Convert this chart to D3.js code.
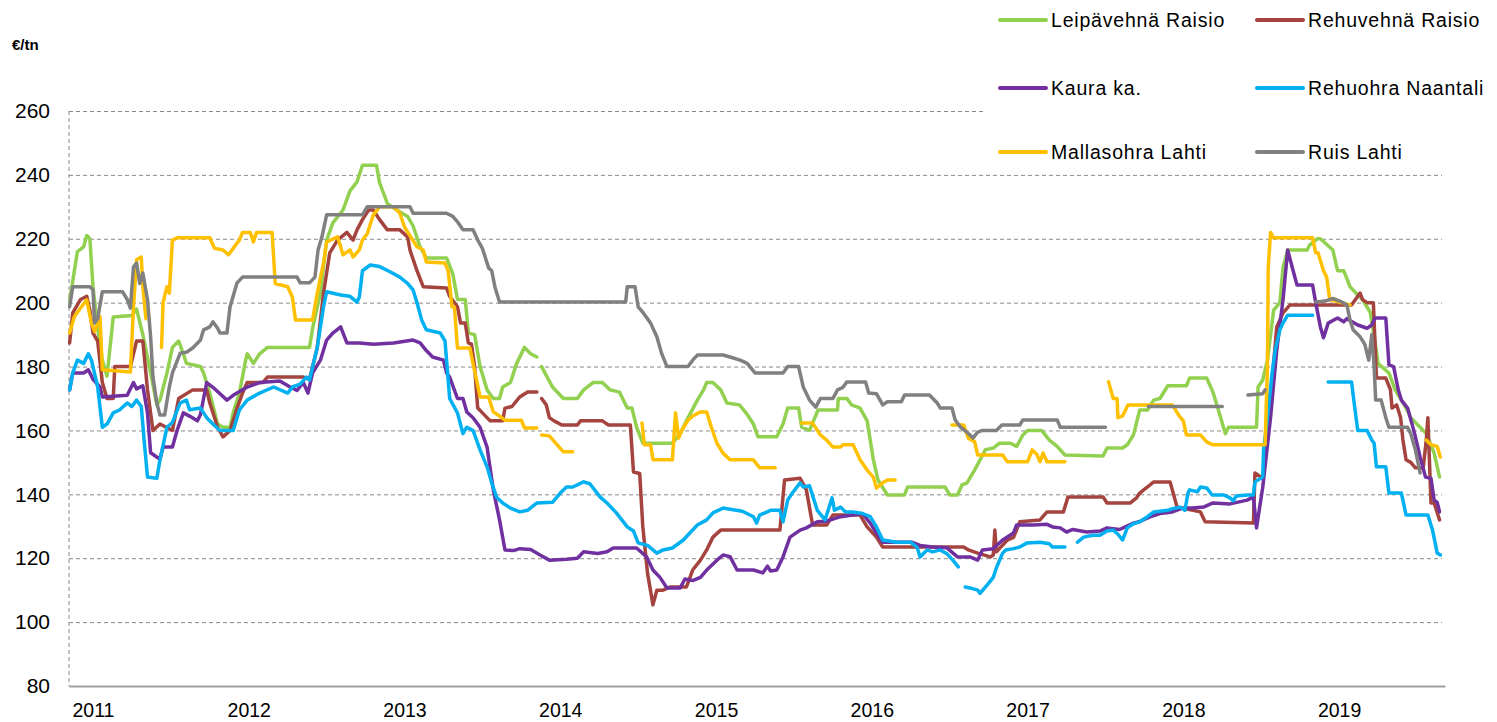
<!DOCTYPE html>
<meta charset="utf-8">
<style>
body { margin: 0; background: #fff; }
svg text { font-family: "Liberation Sans", Arial, sans-serif; fill: #000; }
</style>
<body>
<script src="https://d3js.org/d3.v7.min.js"></script>
<script>
// series names, in legend order (last one drawn on top)
var seriesNames = ["Leipävehnä Raisio", "Rehuvehnä Raisio", "Kaura ka.", "Rehuohra Naantali", "Mallasohra Lahti", "Ruis Lahti"];
var yTicks = [80, 100, 120, 140, 160, 180, 200, 220, 240, 260];
var yearTicks = [2011, 2012, 2013, 2014, 2015, 2016, 2017, 2018, 2019];
var unitLabel = "€/tn";

// [year, €/tn], null = gap in the series
var leipavehna = [[2010.85,200.6],[2010.90,216],[2010.94,217.5],[2010.96,221],[2010.98,220],[2011.00,205],[2011.03,192],[2011.06,182],[2011.09,177],[2011.13,195.5],[2011.25,196],[2011.28,198],[2011.32,190],[2011.37,178],[2011.41,168],[2011.43,169.5],[2011.475,178],[2011.51,186],[2011.55,188],[2011.58,184],[2011.60,181],[2011.69,180],[2011.71,178],[2011.75,171.7],[2011.80,162],[2011.835,161],[2011.88,161],[2011.90,165.5],[2011.94,171.7],[2011.98,182],[2011.99,184],[2012.03,181],[2012.07,184],[2012.12,186],[2012.39,186],[2012.41,192],[2012.46,203],[2012.50,219.6],[2012.54,225],[2012.605,229],[2012.65,235],[2012.695,237.8],[2012.73,243],[2012.82,243],[2012.84,237.5],[2012.875,233],[2012.89,231],[2012.95,229],[2013.02,227],[2013.055,224],[2013.10,217.5],[2013.14,214],[2013.27,214],[2013.31,209],[2013.34,201],[2013.39,201],[2013.41,190.5],[2013.45,190],[2013.485,180],[2013.53,172.7],[2013.57,170],[2013.61,170],[2013.63,173.6],[2013.68,175],[2013.72,181],[2013.77,186],[2013.81,184],[2013.85,183],null,[2013.88,180],[2013.95,173.6],[2014.02,170],[2014.11,170],[2014.15,172.7],[2014.21,175],[2014.27,175],[2014.32,172.7],[2014.38,172],[2014.43,167],[2014.46,167],[2014.49,161],[2014.53,156],[2014.72,156],[2014.77,159],[2014.81,163],[2014.88,169.5],[2014.92,172.7],[2014.94,175],[2014.98,175],[2015.03,172.7],[2015.07,168.6],[2015.15,168],[2015.20,165],[2015.24,162],[2015.27,158],[2015.39,158],[2015.43,162],[2015.46,167],[2015.53,167],[2015.55,161],[2015.60,160],[2015.655,166.4],[2015.78,166.4],[2015.785,170],[2015.84,170],[2015.87,168],[2015.925,167],[2015.97,163],[2016.01,150.8],[2016.04,144.5],[2016.10,139.8],[2016.21,139.8],[2016.23,142.3],[2016.47,142.3],[2016.50,139.8],[2016.55,139.8],[2016.58,143],[2016.61,143.5],[2016.66,147.6],[2016.695,150.8],[2016.73,154],[2016.78,154.5],[2016.82,156],[2016.89,156],[2016.93,155],[2016.97,158.6],[2017.00,160],[2017.09,160],[2017.14,157],[2017.19,155],[2017.24,152.3],[2017.485,152],[2017.51,154.5],[2017.61,154.5],[2017.64,155.5],[2017.68,158.6],[2017.72,166.4],[2017.77,166.4],[2017.81,169.5],[2017.85,170],[2017.90,174],[2018.02,174],[2018.04,176.4],[2018.15,176.4],[2018.19,172],[2018.24,164],[2018.27,159],[2018.29,161],[2018.47,161],[2018.48,173.6],[2018.51,175.8],[2018.54,182],[2018.58,197.7],[2018.62,200],[2018.64,211],[2018.67,216.5],[2018.795,216.5],[2018.81,218],[2018.86,220],[2018.88,220],[2018.96,216.5],[2018.99,210],[2019.03,210],[2019.07,205],[2019.12,202.4],[2019.15,201],[2019.20,197],[2019.23,188],[2019.25,181],[2019.32,178],[2019.36,172.7],[2019.43,167],[2019.46,164],[2019.52,161],[2019.56,159],[2019.61,153],[2019.645,145.4]];

var rehuvehna = [[2010.85,187.4],[2010.87,196.8],[2010.92,201],[2010.96,202],[2010.98,197.7],[2011.00,190.5],[2011.03,188],[2011.06,175],[2011.09,170],[2011.13,170],[2011.14,180],[2011.24,180],[2011.28,188],[2011.32,188],[2011.35,172.7],[2011.385,160],[2011.43,162],[2011.51,160],[2011.55,170],[2011.64,172.7],[2011.73,172.7],[2011.75,168.6],[2011.80,161],[2011.835,158],[2011.88,160],[2011.925,167],[2011.96,171.7],[2011.99,175],[2012.09,175],[2012.12,176.7],[2012.35,176.7],[2012.39,176],[2012.44,186],[2012.48,203],[2012.52,215.6],[2012.57,219.6],[2012.63,222],[2012.67,219.6],[2012.695,222.8],[2012.73,226],[2012.77,229],[2012.80,229],[2012.84,226],[2012.89,222.8],[2012.97,222.8],[2013.02,220.6],[2013.035,216.5],[2013.08,210],[2013.12,205],[2013.27,204.6],[2013.29,202],[2013.34,198.7],[2013.36,193.6],[2013.39,193.6],[2013.41,187.4],[2013.43,187],[2013.45,180],[2013.47,167],[2013.50,165.5],[2013.55,163],[2013.63,163],[2013.645,167],[2013.69,167.5],[2013.74,170.5],[2013.79,172],[2013.85,172],null,[2013.88,170],[2013.91,168],[2013.93,164],[2013.96,163],[2014.01,161.7],[2014.11,161.7],[2014.13,163],[2014.27,163],[2014.31,161.7],[2014.45,161.7],[2014.47,147],[2014.51,146.5],[2014.53,129.8],[2014.56,115.4],[2014.595,105.4],[2014.62,110],[2014.66,110],[2014.705,111],[2014.81,111],[2014.85,116.3],[2014.90,119.4],[2014.94,122.6],[2014.98,126.6],[2015.03,128.8],[2015.41,128.8],[2015.44,144.5],[2015.54,145],[2015.58,141.4],[2015.62,130.4],[2015.71,130.4],[2015.75,133.5],[2015.925,133.5],[2015.97,129.8],[2016.03,126.6],[2016.07,123.5],[2016.59,123.5],[2016.62,122.6],[2016.68,121.6],[2016.76,120.4],[2016.78,121],[2016.79,128.8],[2016.80,122],[2016.87,125.7],[2016.91,126.5],[2016.95,131.4],[2017.08,132],[2017.125,134.5],[2017.23,134.5],[2017.26,139.2],[2017.485,139.2],[2017.51,137.3],[2017.66,137.3],[2017.70,138.9],[2017.72,140.4],[2017.77,142.3],[2017.81,143.9],[2017.915,143.9],[2017.96,136],[2018.11,134.5],[2018.14,131.4],[2018.45,131],[2018.46,146.7],[2018.51,145],[2018.54,159],[2018.60,192.4],[2018.64,196.8],[2018.685,199.3],[2019.08,199.3],[2019.135,203],[2019.15,201],[2019.18,200],[2019.22,200],[2019.24,176.4],[2019.30,176.4],[2019.33,172.7],[2019.34,167],[2019.37,168],[2019.395,164],[2019.41,157],[2019.43,150.8],[2019.46,150],[2019.49,148.3],[2019.54,148.3],[2019.56,157],[2019.57,164],[2019.59,137.3],[2019.61,137.3],[2019.645,132]];

var kaura = [[2010.85,172.7],[2010.87,178],[2010.94,178],[2010.97,179],[2011.00,176],[2011.045,173.6],[2011.06,170.5],[2011.22,171],[2011.26,175],[2011.28,173],[2011.32,174],[2011.35,165.5],[2011.37,153],[2011.43,151],[2011.45,154.8],[2011.51,154.8],[2011.54,160],[2011.58,165.5],[2011.62,164.5],[2011.67,163],[2011.69,165],[2011.73,175],[2011.77,173.5],[2011.86,169.5],[2011.90,171],[2011.99,173.6],[2012.07,175],[2012.20,175.5],[2012.265,173.6],[2012.31,172.5],[2012.35,175],[2012.38,171.7],[2012.41,178],[2012.46,182],[2012.50,188.3],[2012.54,190.5],[2012.59,192.4],[2012.63,187.4],[2012.71,187.4],[2012.80,187],[2012.93,187.4],[2013.055,188.3],[2013.10,187.4],[2013.14,185],[2013.18,183],[2013.25,182],[2013.27,178],[2013.29,176.7],[2013.34,170],[2013.375,170],[2013.40,165.8],[2013.44,164],[2013.485,161],[2013.53,154.8],[2013.57,141.4],[2013.61,132],[2013.645,122.6],[2013.70,122.4],[2013.74,123],[2013.81,122.7],[2013.87,121],[2013.93,119.4],[2014.04,119.7],[2014.11,120],[2014.15,122],[2014.24,121.5],[2014.30,122],[2014.34,123.2],[2014.49,123.2],[2014.555,120.4],[2014.595,116.3],[2014.64,114],[2014.685,110.7],[2014.77,110.7],[2014.80,113.5],[2014.85,113],[2014.90,114],[2014.94,116.3],[2015.006,119.4],[2015.045,121],[2015.09,120.5],[2015.135,116.3],[2015.24,116.3],[2015.30,115.4],[2015.33,117.5],[2015.35,116],[2015.39,116.3],[2015.43,120.4],[2015.475,126.6],[2015.54,128.8],[2015.58,129.5],[2015.65,131.4],[2015.71,131.6],[2015.80,133],[2015.94,134],[2015.99,131],[2016.03,127.9],[2016.07,125],[2016.26,125],[2016.31,124],[2016.39,123.5],[2016.48,123.3],[2016.55,120.4],[2016.63,120.4],[2016.68,119.4],[2016.71,122.6],[2016.78,123],[2016.84,125.7],[2016.91,127.9],[2016.93,130.4],[2017.035,130.4],[2017.125,130.6],[2017.16,129.8],[2017.21,129.5],[2017.25,128.2],[2017.29,129],[2017.38,128.2],[2017.465,128.5],[2017.51,129.5],[2017.59,129],[2017.68,131],[2017.72,131.5],[2017.79,133],[2017.85,134],[2017.93,134.5],[2017.995,135.7],[2018.06,135.7],[2018.13,136],[2018.19,137.3],[2018.30,137],[2018.41,138.2],[2018.45,139.2],[2018.47,129.5],[2018.51,142.3],[2018.56,164],[2018.60,185.2],[2018.64,200.9],[2018.67,216.5],[2018.705,210],[2018.73,205.5],[2018.83,205.5],[2018.85,200],[2018.88,192.4],[2018.90,189],[2018.93,193.6],[2018.99,195.2],[2019.03,194],[2019.05,195],[2019.12,193],[2019.18,192],[2019.21,193],[2019.23,195.2],[2019.30,195.2],[2019.32,180.5],[2019.35,180],[2019.38,172.7],[2019.40,169.5],[2019.44,167],[2019.485,159],[2019.52,151.7],[2019.555,145.4],[2019.59,145],[2019.61,138.2],[2019.63,137.5],[2019.645,134.5]];

var rehuohra = [[2010.85,172.7],[2010.87,178],[2010.90,182],[2010.94,181],[2010.97,184],[2010.99,182],[2011.03,173.6],[2011.06,161],[2011.09,162],[2011.13,165.5],[2011.17,166.4],[2011.22,168.6],[2011.25,167.5],[2011.28,169.5],[2011.31,167.5],[2011.33,156],[2011.35,145.4],[2011.41,145],[2011.43,150.8],[2011.475,161],[2011.51,162.5],[2011.56,168.6],[2011.60,169.5],[2011.62,166.5],[2011.69,167],[2011.73,164],[2011.77,162],[2011.815,160],[2011.90,160],[2011.94,166.4],[2011.99,169.5],[2012.07,171.7],[2012.16,173.6],[2012.25,171.7],[2012.28,173.6],[2012.33,174.5],[2012.37,176.7],[2012.39,175.8],[2012.44,186],[2012.48,198.7],[2012.50,203.4],[2012.59,202.4],[2012.65,202],[2012.695,200.2],[2012.71,201.8],[2012.73,210],[2012.78,211.8],[2012.84,211.3],[2012.91,209.6],[2012.97,208],[2013.02,206],[2013.055,204],[2013.08,200],[2013.11,194.6],[2013.14,191.5],[2013.23,190.5],[2013.26,188],[2013.27,182],[2013.29,170],[2013.34,165.5],[2013.375,159],[2013.40,161],[2013.44,160],[2013.485,153.9],[2013.53,148.6],[2013.56,143.6],[2013.59,139.2],[2013.63,137.3],[2013.68,135.7],[2013.74,134.5],[2013.79,135],[2013.85,137.3],[2013.95,137.5],[2014.00,140.4],[2014.04,142.3],[2014.08,142.3],[2014.15,143.9],[2014.19,143.3],[2014.255,139.2],[2014.30,137.3],[2014.36,134.2],[2014.43,129.8],[2014.47,128.5],[2014.50,124.8],[2014.56,124],[2014.62,121.6],[2014.66,122.6],[2014.72,123.2],[2014.79,125.7],[2014.83,127.8],[2014.88,130.4],[2014.94,132],[2014.98,134.2],[2015.045,135.7],[2015.11,135.2],[2015.17,134.7],[2015.24,133],[2015.26,131],[2015.28,133.5],[2015.35,135],[2015.41,135],[2015.43,131.4],[2015.46,138.2],[2015.49,140.4],[2015.54,143.6],[2015.56,142.3],[2015.60,142.7],[2015.65,135],[2015.70,132],[2015.745,138.9],[2015.76,135],[2015.80,136],[2015.83,134.5],[2015.88,134.5],[2015.94,134],[2015.99,133],[2016.03,129.8],[2016.07,125.7],[2016.16,125],[2016.25,125],[2016.29,123.5],[2016.31,120.4],[2016.355,122.6],[2016.39,122],[2016.44,122.6],[2016.48,121.5],[2016.52,119.4],[2016.555,117.3],null,[2016.60,111],[2016.63,110.7],[2016.68,110],[2016.695,109],[2016.74,111.6],[2016.78,114],[2016.80,117],[2016.84,121.6],[2016.86,122.6],[2016.91,123],[2016.95,123.5],[2016.997,124.8],[2017.08,125],[2017.14,124.5],[2017.16,123.5],[2017.24,123.5],null,[2017.32,125],[2017.36,126.6],[2017.42,127.2],[2017.465,127.2],[2017.51,128.5],[2017.55,128.8],[2017.58,127.5],[2017.61,125.7],[2017.64,129.5],[2017.68,130.8],[2017.72,131.4],[2017.77,133],[2017.81,134.5],[2017.90,135],[2017.93,135.5],[2017.98,136],[2018.01,135],[2018.03,140.4],[2018.04,141.4],[2018.09,140.8],[2018.11,142.3],[2018.15,142],[2018.185,139.8],[2018.26,139.8],[2018.30,138.9],[2018.32,138],[2018.34,139.5],[2018.41,139.8],[2018.45,139.8],[2018.46,143.9],[2018.51,145.4],[2018.515,153.9],[2018.54,164],[2018.57,178],[2018.59,185.2],[2018.62,191.5],[2018.64,193.6],[2018.67,196.1],[2018.83,196.1],null,[2018.93,175.2],[2019.08,175.2],[2019.10,167.3],[2019.12,160],[2019.18,160],[2019.21,157],[2019.225,156],[2019.24,148.6],[2019.30,148.6],[2019.32,140.4],[2019.40,140.4],[2019.43,133.5],[2019.57,133.5],[2019.60,128.8],[2019.63,121.6],[2019.65,121]];

var mallasohra = [[2010.85,190.5],[2010.88,195.6],[2010.92,198.3],[2010.96,200.9],[2010.99,193.6],[2011.01,191],[2011.045,195.6],[2011.06,179],[2011.24,178.3],[2011.26,198.7],[2011.28,213.4],[2011.31,214.3],[2011.32,205],[2011.34,195],null,[2011.44,186],[2011.45,200],[2011.475,205],[2011.49,203],[2011.51,219.6],[2011.54,220.3],[2011.75,220.3],[2011.78,217],[2011.835,216.5],[2011.87,215],[2011.90,217],[2011.94,219.6],[2011.96,222],[2012.01,222],[2012.03,219],[2012.05,222],[2012.15,222],[2012.17,206],[2012.25,205],[2012.28,201.8],[2012.30,194.6],[2012.41,194.6],[2012.44,203],[2012.48,212.4],[2012.50,219],[2012.57,220.6],[2012.605,215],[2012.65,216.5],[2012.67,214.3],[2012.71,216.5],[2012.73,219.6],[2012.76,221.5],[2012.80,227.5],[2012.84,230],[2012.93,230],[2012.97,228],[2013.00,223.7],[2013.035,221],[2013.08,217.5],[2013.12,216.5],[2013.14,212.7],[2013.26,212.4],[2013.28,210],[2013.305,198.7],[2013.32,198.7],[2013.34,185.8],[2013.42,185.8],[2013.44,181],[2013.485,170.5],[2013.54,170.5],[2013.57,165.8],[2013.61,164.5],[2013.645,163.2],[2013.75,163.2],[2013.77,160.8],[2013.85,160.8],null,[2013.88,158.6],[2013.93,158.3],[2013.98,155.5],[2014.02,153.3],[2014.08,153.3],null,[2014.525,162.3],[2014.54,155.5],[2014.58,155.5],[2014.595,150.8],[2014.72,150.8],[2014.74,165.5],[2014.76,157.6],[2014.78,160],[2014.82,163.2],[2014.85,164.5],[2014.90,165.8],[2014.94,165.8],[2014.97,161],[2015.006,156],[2015.045,152.9],[2015.09,150.8],[2015.24,150.8],[2015.28,148.3],[2015.38,148.3],null,[2015.55,162.3],[2015.62,162.3],[2015.67,158.6],[2015.71,157],[2015.75,154.8],[2015.80,154.8],[2015.815,155.5],[2015.88,155.5],[2015.925,150.8],[2015.97,147.6],[2016.01,145.4],[2016.03,142],[2016.07,143.6],[2016.10,144.5],[2016.15,144.5],null,[2016.515,161.7],[2016.59,161.7],[2016.62,157.6],[2016.66,156.5],[2016.68,152.3],[2016.84,152.3],[2016.87,150.2],[2017.00,150.2],[2017.03,153.9],[2017.06,152.5],[2017.08,150.2],[2017.10,152.9],[2017.125,150.2],[2017.24,150.2],null,[2017.52,175.2],[2017.55,170],[2017.575,170],[2017.58,164],[2017.61,164.5],[2017.645,168],[2017.93,168],[2017.97,164.8],[2018.00,163],[2018.02,158.6],[2018.11,158.6],[2018.15,156.4],[2018.19,155.5],[2018.525,155.5],[2018.54,180],[2018.545,211],[2018.56,222],[2018.58,220.3],[2018.83,220.3],[2018.85,215.6],[2018.865,215.6],[2018.90,210],[2018.92,208],[2018.94,201],[2019.07,199.3],null,[2019.56,157],[2019.59,155.5],[2019.63,155],[2019.65,151.7]];

var ruis = [[2010.85,198.7],[2010.87,205],[2010.98,205],[2011.00,204],[2011.01,193.6],[2011.03,195],[2011.06,203.4],[2011.19,203.4],[2011.22,201],[2011.24,198.3],[2011.26,211.2],[2011.28,212.4],[2011.30,206],[2011.32,209.3],[2011.35,200.9],[2011.37,189.3],[2011.385,176.7],[2011.41,168.6],[2011.43,164.8],[2011.46,164.8],[2011.49,173.6],[2011.51,178],[2011.56,184.2],[2011.60,184.5],[2011.64,185.8],[2011.69,188.3],[2011.71,191.5],[2011.75,192.4],[2011.77,194],[2011.80,192],[2011.815,190.5],[2011.86,190.5],[2011.88,198.7],[2011.925,206.2],[2011.96,208],[2012.31,208],[2012.33,206.2],[2012.39,206.2],[2012.425,208],[2012.445,216.5],[2012.47,220.6],[2012.50,227.5],[2012.73,227.5],[2012.76,230],[2013.035,230],[2013.055,228],[2013.27,228],[2013.31,227],[2013.34,225.3],[2013.375,222.8],[2013.44,222.8],[2013.47,219.6],[2013.50,217],[2013.54,210.9],[2013.56,210],[2013.58,205],[2013.61,200.2],[2014.42,200.2],[2014.43,205],[2014.48,205],[2014.50,198.7],[2014.53,197],[2014.58,193.6],[2014.62,189.3],[2014.65,184.2],[2014.685,180],[2014.82,180],[2014.85,182],[2014.88,183.6],[2015.045,183.6],[2015.09,183],[2015.155,182],[2015.20,181],[2015.25,178],[2015.43,178],[2015.46,180],[2015.53,180],[2015.56,173.6],[2015.60,169.5],[2015.64,167.3],[2015.67,170],[2015.75,170],[2015.78,172.7],[2015.815,173.5],[2015.84,175.2],[2015.96,175.2],[2015.98,171.7],[2016.03,171.5],[2016.07,168],[2016.10,169],[2016.19,169],[2016.21,171.1],[2016.37,171.1],[2016.42,168.6],[2016.44,167],[2016.515,167],[2016.535,163.3],[2016.57,161],[2016.61,159.5],[2016.65,157.6],[2016.68,159.5],[2016.71,160],[2016.80,160],[2016.835,161.7],[2016.95,161.7],[2016.97,163.3],[2017.19,163.3],[2017.21,161],[2017.50,161],null,[2017.775,167.5],[2018.25,167.5],null,[2018.415,171.1],[2018.51,171.5],[2018.525,172.7],null,[2018.85,200.2],[2018.91,200.5],[2018.96,201.3],[2019.005,200.5],[2019.05,199.3],[2019.07,194.6],[2019.09,191.5],[2019.135,189.3],[2019.165,187],[2019.19,182],[2019.21,190],[2019.225,180],[2019.235,169.5],[2019.27,169.5],[2019.30,164],[2019.32,161],[2019.44,161],[2019.46,159],[2019.49,153.9],[2019.52,146.7]];

var seriesData = [leipavehna, rehuvehna, kaura, rehuohra, mallasohra, ruis];
var seriesColors = ["#92D050", "#A5433E", "#7030A0", "#00B0F0", "#FFC000", "#808080"];

var width = 1497, height = 722;
var plotLeft = 69, plotRight = 1445, plotTop = 111, plotBottom = 686;

var x = d3.scaleLinear().domain([2010.846, 2019.68]).range([plotLeft, plotRight]);
var y = d3.scaleLinear().domain([80, 260]).range([plotBottom, plotTop]);

var svg = d3.select("body").append("svg")
    .attr("width", width)
    .attr("height", height);

// gridlines + y labels
var yAxis = svg.append("g")
    .attr("transform", "translate(" + plotLeft + ",0)")
    .call(d3.axisLeft(y).tickValues(yTicks).tickSize(-(plotRight - plotLeft - 3)).tickPadding(19));
yAxis.select(".domain").remove();
yAxis.selectAll("line")
    .attr("stroke", "#8a8a8a")
    .attr("stroke-dasharray", "4,3");
yAxis.selectAll("text")
    .style("font-size", "21px")
    .attr("fill", "#000");

// dashed left edge
svg.append("line")
    .attr("x1", plotLeft).attr("x2", plotLeft)
    .attr("y1", plotTop).attr("y2", plotBottom)
    .attr("stroke", "#8a8a8a")
    .attr("stroke-dasharray", "4,3");

// unit label
svg.append("text")
    .attr("x", 12)
    .attr("y", 50)
    .style("font-size", "15px")
    .style("font-weight", "bold")
    .text(unitLabel);

// lines
var line = d3.line()
    .defined(function(d) { return d !== null; })
    .x(function(d) { return x(d[0]); })
    .y(function(d) { return y(d[1]); });

seriesData.forEach(function(data, i) {
  svg.append("path")
      .datum(data)
      .attr("fill", "none")
      .attr("stroke", seriesColors[i])
      .attr("stroke-width", 3.5)
      .attr("stroke-linejoin", "round")
      .attr("stroke-linecap", "round")
      .attr("d", line);
});

// x axis
var xAxis = svg.append("g")
    .attr("transform", "translate(0," + plotBottom + ")")
    .call(d3.axisBottom(x).tickValues(yearTicks).tickSize(0).tickFormat(d3.format("d")));
xAxis.select(".domain")
    .attr("stroke", "#a0a0a0")
    .attr("stroke-width", 2);
xAxis.selectAll("text")
    .attr("y", 31)
    .attr("dy", 0)
    .style("font-size", "19.5px")
    .attr("fill", "#000");

// legend, white box hides the gridlines behind it
var legend = svg.append("g");
legend.append("rect")
    .attr("x", 986).attr("y", 0)
    .attr("width", width - 986).attr("height", 170)
    .attr("fill", "#fff");

var legendCols = [1000, 1257], legendRows = [20, 88, 152];
seriesNames.forEach(function(name, i) {
  var lx = legendCols[i % 2], ly = legendRows[Math.floor(i / 2)];
  legend.append("line")
      .attr("x1", lx).attr("x2", lx + 46)
      .attr("y1", ly).attr("y2", ly)
      .attr("stroke", seriesColors[i])
      .attr("stroke-width", 4)
      .attr("stroke-linecap", "round");
  legend.append("text")
      .attr("x", lx + 51)
      .attr("y", ly + 7)
      .style("font-size", "19.5px")
      .style("letter-spacing", "0.8px")
      .text(name);
});
</script>
</body>
